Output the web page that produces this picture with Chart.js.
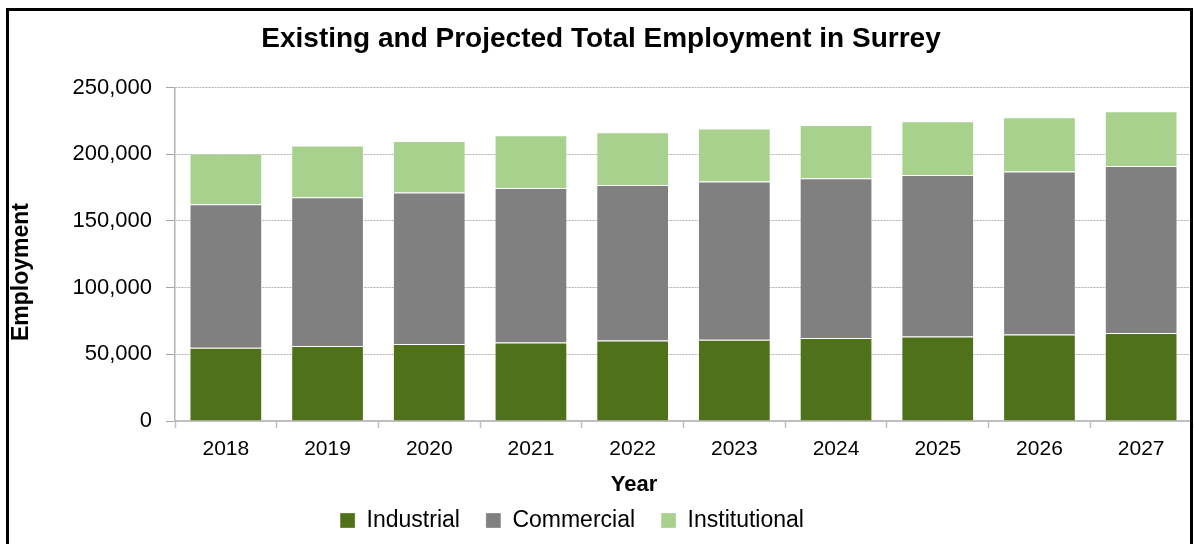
<!DOCTYPE html>
<html>
<head>
<meta charset="utf-8">
<title>Existing and Projected Total Employment in Surrey</title>
<script src="https://cdn.jsdelivr.net/npm/chart.js@4.4.1/dist/chart.umd.min.js"></script>
<style>
  html, body { margin: 0; padding: 0; background: #fff; overflow: hidden; }
  #wrap { position: relative; width: 1194px; height: 544px; }
  #frame {
    position: absolute; left: 6px; top: 8px; width: 1187px; height: 620px;
    border: 3px solid #000; box-sizing: border-box; pointer-events: none;
  }
</style>
</head>
<body>
<div id="wrap">
  <canvas id="employmentChart" width="1194" height="544"></canvas>
  <div id="frame"></div>
</div>
<script>
// employment by sector, 2018 actual then projections
const years = ['2018', '2019', '2020', '2021', '2022', '2023', '2024', '2025', '2026', '2027'];
const industrial    = [55000, 56300, 57800, 58800, 60300, 61000, 62300, 63300, 64800, 66000];
const commercial    = [107500, 111500, 113500, 116000, 116700, 118500, 119700, 121200, 122200, 125300];
const institutional = [38000, 38700, 38700, 39500, 39500, 39800, 40000, 40300, 40800, 41000];

const yTicks = { min: 0, max: 250000, step: 50000 };

const FONT = '"Liberation Sans", Arial, sans-serif';

// axis captions are placed by hand (the original layout had them off-centre)
const captions = {
  x: { text: 'Year', x: 634, y: 485, size: 22 },
  y: { text: 'Employment', x: 22, y: 272, size: 23 }
};
const legendCentre = 572;

const captionPlugin = {
  id: 'axisCaptions',
  afterLayout(chart) {
    // slide the legend row so it is centred on legendCentre
    const lg = chart.legend;
    const shift = legendCentre - (lg.left + lg.right) / 2;
    lg.left += shift;
    lg.right += shift;
  },
  afterDraw(chart) {
    const ctx = chart.ctx;
    ctx.save();
    ctx.fillStyle = '#000';
    ctx.textAlign = 'center';
    ctx.textBaseline = 'middle';
    ctx.font = 'bold ' + captions.x.size + 'px ' + FONT;
    ctx.fillText(captions.x.text, captions.x.x, captions.x.y);
    ctx.font = 'bold ' + captions.y.size + 'px ' + FONT;
    ctx.translate(captions.y.x, captions.y.y);
    ctx.rotate(-Math.PI / 2);
    ctx.fillText(captions.y.text, 0, 0);
    ctx.restore();
  }
};

const ctx = document.getElementById('employmentChart').getContext('2d');

new Chart(ctx, {
  type: 'bar',
  data: {
    labels: years,
    datasets: [
      {
        label: 'Industrial',
        data: industrial,
        backgroundColor: '#4f7119',
        borderColor: 'rgba(255,255,255,0.3)',
        borderWidth: 1
      },
      {
        label: 'Commercial',
        data: commercial,
        backgroundColor: '#808080',
        borderColor: 'rgba(255,255,255,0.3)',
        borderWidth: 1
      },
      {
        label: 'Institutional',
        data: institutional,
        backgroundColor: '#a9d18e',
        borderColor: 'rgba(255,255,255,0.3)',
        borderWidth: 1
      }
    ]
  },
  options: {
    responsive: false,
    animation: false,
    layout: { padding: { left: 10, right: 2, top: 0, bottom: 2 } },
    datasets: {
      bar: { barPercentage: 0.715, categoryPercentage: 1 }
    },
    plugins: {
      title: {
        display: true,
        text: 'Existing and Projected Total Employment in Surrey',
        color: '#000',
        font: { family: FONT, size: 28, weight: 'bold' },
        padding: { top: 22, bottom: 32 }
      },
      legend: {
        position: 'bottom',
        labels: {
          color: '#000',
          font: { family: FONT, size: 23 },
          boxWidth: 15,
          boxHeight: 15,
          padding: 26
        }
      },
      tooltip: { enabled: false }
    },
    scales: {
      x: {
        stacked: true,
        grid: {
          drawOnChartArea: false,
          drawTicks: true,
          tickLength: 7,
          color: '#bfbfbf',
          tickWidth: 1.5
        },
        border: { color: '#bfbfbf', width: 2 },
        ticks: {
          color: '#000',
          font: { family: FONT, size: 21 },
          padding: 9
        },
        afterFit(scale) { scale.height = 62; }
      },
      y: {
        stacked: true,
        min: yTicks.min,
        max: yTicks.max,
        grid: {
          color: '#b0b0b0',
          lineWidth: 1,
          tickLength: 9,
          tickColor: '#a6a6a6',
          tickBorderDash: []
        },
        border: { color: '#b4b4b4', width: 1.5, dash: [2, 1] },
        ticks: {
          stepSize: yTicks.step,
          color: '#000',
          font: { family: FONT, size: 22 },
          padding: 14,
          callback: v => v.toLocaleString('en-US')
        },
        afterFit(scale) { scale.width = 165; }
      }
    }
  },
  plugins: [captionPlugin]
});
</script>
</body>
</html>
